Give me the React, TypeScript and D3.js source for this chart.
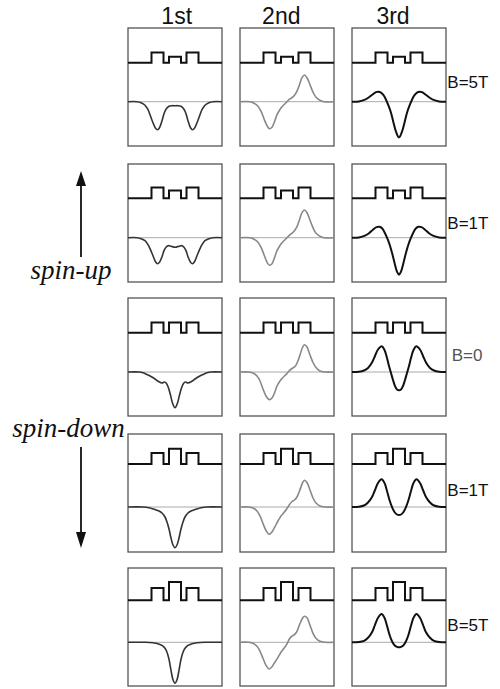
import React from "react";
import * as d3 from "d3";

type Pt = [number, number];

const states = ["1st", "2nd", "3rd"];
const fieldLabels = ["B=5T", "B=1T", "B=0", "B=1T", "B=5T"];
const spinLabels = ["spin-up", "spin-down"];

// triple-barrier potential (position units, barrier heights in arbitrary energy units)
const barrierEdges = [-23.5, -11.5, -6, 6, 11.5, 23.5];
const outerBarrierHeight = [10.3, 10.7, 10.3, 11, 12.3];
const middleBarrierHeight = [6, 7.7, 10.3, 15.3, 18.3];

// wavefunctions, [position, amplitude]
const wave1st: Pt[][] = [
  [[-47,0],[-38,0],[-34,-1],[-30,-3.5],[-27,-8],[-25,-13],[-22,-21],[-19.5,-26.5],[-17.5,-28],[-15.5,-26],[-13,-19],[-11,-12],[-9,-7.5],[-6,-4.5],[-3,-4],[0,-4],[3,-4],[6,-4.5],[9,-7.5],[11,-12],[13,-19],[15.5,-26],[17.5,-28],[19.5,-26.5],[22,-21],[25,-13],[27,-8],[30,-3.5],[34,-1],[38,0],[47,0]],
  [[-47,0],[-38,0],[-34,-1],[-30,-3],[-27,-7],[-25,-11],[-22,-18],[-19.5,-24],[-17.5,-26],[-15.5,-24.5],[-13,-19],[-11,-13],[-9,-9.5],[-7,-8],[-4,-8.5],[0,-9.5],[4,-8.5],[7,-8],[9,-9.5],[11,-13],[13,-19],[15.5,-24.5],[17.5,-26],[19.5,-24],[22,-18],[25,-11],[27,-7],[30,-3],[34,-1],[38,0],[47,0]],
  [[-47,0],[-36,0],[-32,-0.8],[-28,-2.5],[-24,-4.5],[-20,-7],[-16.5,-9.5],[-13,-11],[-10.5,-10],[-8.5,-11.5],[-6.5,-16],[-4.5,-23],[-2.5,-31],[0,-35.7],[2.5,-31],[4.5,-23],[6.5,-16],[8.5,-11.5],[10.5,-10],[13,-11],[16.5,-9.5],[20,-7],[24,-4.5],[28,-2.5],[32,-0.8],[36,0],[47,0]],
  [[-47,0],[-32,0],[-26,-0.8],[-20,-2.5],[-16,-4],[-13,-6],[-10,-10],[-8,-15],[-6,-22],[-4,-31],[-2,-38],[0,-40.7],[2,-38],[4,-31],[6,-22],[8,-15],[10,-10],[13,-6],[16,-4],[20,-2.5],[26,-0.8],[32,0],[47,0]],
  [[-47,0],[-30,0],[-22,-0.5],[-17,-1.5],[-13,-3],[-10,-6],[-8,-10],[-6,-17],[-4,-28],[-2,-37.5],[0,-41],[2,-37.5],[4,-28],[6,-17],[8,-10],[10,-6],[13,-3],[17,-1.5],[22,-0.5],[30,0],[47,0]],
];

const wave2nd: Pt[][] = [
  [[-47,0],[-37,0],[-33,-1.5],[-29,-4.5],[-26,-9.5],[-23,-17],[-20,-24],[-17.5,-27],[-15,-25.5],[-12.5,-20],[-10,-13],[-7.5,-8.5],[-5,-5],[-2.5,-2.5],[0,0],[2.5,2.5],[5,4],[7.5,6.5],[10,10.5],[12.5,17],[15,24],[17.5,26.7],[20,24],[23,17],[26,9.5],[29,4.5],[33,1.5],[37,0],[47,0]],
  [[-47,0],[-37,0],[-33,-1.5],[-29,-4.5],[-26,-9.5],[-23,-17],[-20,-24.5],[-17.5,-27.5],[-15,-26],[-12.5,-20],[-10,-13],[-7.5,-8.5],[-5,-5],[-2.5,-2.5],[0,0],[2.5,2.5],[5,4.5],[7.5,7],[10,11],[12.5,18],[15,25],[17.5,27.7],[20,25],[23,17.5],[26,10],[29,4.5],[33,1.5],[37,0],[47,0]],
  [[-47,0],[-38,0],[-34,-1],[-30,-4],[-27,-9],[-24,-17],[-21,-24],[-17.5,-27.7],[-15,-26],[-12.5,-21],[-10,-14],[-7,-9],[-4,-5.5],[-1,-2.5],[2,1],[5,3.5],[8,5.5],[10.5,10],[13,17],[15.5,24.5],[17.5,27.3],[20,25],[23,17],[26,9.5],[29,4.5],[33,1],[38,0],[47,0]],
  [[-47,0],[-38,0],[-34,-1],[-30,-4],[-27,-9],[-24,-16.5],[-21,-23.5],[-18,-27.3],[-15.5,-25.5],[-12.5,-20.5],[-9,-14],[-6,-9],[-3,-5.5],[0,-1.5],[2.5,2.5],[5,5.5],[7.5,7],[10,10],[12.5,16],[15.5,24],[17.5,26.7],[20,24.5],[23,17],[26,9],[29,4],[33,1],[38,0],[47,0]],
  [[-47,0],[-38,0],[-34,-1],[-30,-4],[-27,-9],[-24,-16],[-21,-23],[-18,-26.7],[-15.5,-25],[-12.5,-20.5],[-9,-15],[-6,-10],[-3,-6],[0,-1.5],[2.5,3.5],[4.5,6],[7,7.3],[9.5,10],[12.5,17.5],[15.5,24],[17.5,26],[20,24.5],[23,17],[26,9],[29,4],[33,1],[38,0],[47,0]],
];

const wave3rd: Pt[][] = [
  [[-47,0],[-40,0.3],[-34,2],[-30,4.5],[-26,7.5],[-23,9.5],[-20.5,10],[-18,9],[-15.5,6.5],[-13,2],[-10.5,-4],[-8,-11],[-5.5,-21],[-3,-30],[0,-35.7],[3,-30],[5.5,-21],[8,-11],[10.5,-4],[13,2],[15.5,6.5],[18,9],[20.5,10],[23,9.5],[26,7.5],[30,4.5],[34,2],[40,0.3],[47,0]],
  [[-47,0],[-40,0.3],[-34,2],[-30,4.5],[-26,8],[-22.5,10.5],[-19.5,11],[-17,9.5],[-14.5,5.5],[-12,0],[-9.5,-6.5],[-7,-15],[-4.5,-25],[-2,-34],[0,-37],[2,-34],[4.5,-25],[7,-15],[9.5,-6.5],[12,0],[14.5,5.5],[17,9.5],[19.5,11],[22.5,10.5],[26,8],[30,4.5],[34,2],[40,0.3],[47,0]],
  [[-47,0],[-40,0.3],[-35,1.5],[-31,4],[-27,9.5],[-24,16],[-21,22.5],[-17.2,25.7],[-14.5,22],[-12,14],[-10,6],[-8,-1],[-6,-8],[-4,-14],[-2,-17.5],[0,-18.3],[2,-17.5],[4,-14],[6,-8],[8,-1],[10,6],[12,14],[14.5,22],[17.2,25.7],[21,22.5],[24,16],[27,9.5],[31,4],[35,1.5],[40,0.3],[47,0]],
  [[-47,0],[-40,0.3],[-35,1.5],[-31,4.5],[-27,10],[-24,17],[-21,24],[-17.5,27.7],[-14.5,24],[-12,16],[-9.5,7],[-7,0],[-4.5,-5],[-2,-7.5],[0,-8],[2,-7.5],[4.5,-5],[7,0],[9.5,7],[12,16],[14.5,24],[17.5,27.7],[21,24],[24,17],[27,10],[31,4.5],[35,1.5],[40,0.3],[47,0]],
  [[-47,0],[-40,0.3],[-35,1.5],[-31,4.5],[-27,10],[-24,17.5],[-21,24.5],[-17.5,28.3],[-14.5,24.5],[-12,16.5],[-9.5,7.5],[-7,1],[-4.5,-3],[-2,-4.5],[0,-5],[2,-4.5],[4.5,-3],[7,1],[9.5,7.5],[12,16.5],[14.5,24.5],[17.5,28.3],[21,24.5],[24,17.5],[27,10],[31,4.5],[35,1.5],[40,0.3],[47,0]],
];

const waves = [wave1st, wave2nd, wave3rd];

// layout
const W = 500;
const H = 689;
const colLeft = [128, 240, 352];
const panelW = 94;
const rowTop = [28, 164, 298, 434, 568];
const panelH = 118;
const potBase = [34.7, 34.3, 34.7, 30, 32.3];
const waveBase = [73.7, 73.7, 74, 73, 74.3];
const titleX = [176.7, 281.3, 393];
const waveColor = ["#333", "#888", "#111"];
const waveWidth = [1.6, 1.6, 2];
const labelBaseline = [88.3, 229, 360.7, 495.7, 631];

function potentialPoints(row: number): Pt[] {
  const o = outerBarrierHeight[row];
  const m = middleBarrierHeight[row];
  const e = barrierEdges;
  return [
    [-47, 0], [e[0], 0], [e[0], o], [e[1], o], [e[1], 0],
    [e[2], 0], [e[2], m], [e[3], m], [e[3], 0],
    [e[4], 0], [e[4], o], [e[5], o], [e[5], 0], [47, 0],
  ];
}

function Panel({ row, col }: { row: number; col: number }) {
  const x = d3.scaleLinear().domain([-47, 47]).range([0, panelW]);
  const yv = d3.scaleLinear().domain([0, 20]).range([potBase[row], potBase[row] - 20]);
  const yw = d3.scaleLinear().domain([-45, 45]).range([waveBase[row] + 45, waveBase[row] - 45]);
  const potLine = d3.line<Pt>().x((d) => x(d[0])).y((d) => yv(d[1]));
  const waveLine = d3
    .line<Pt>()
    .x((d) => x(d[0]))
    .y((d) => yw(d[1]))
    .curve(d3.curveCatmullRom.alpha(0.5));
  return (
    <g transform={`translate(${colLeft[col]},${rowTop[row]})`}>
      <rect x={0} y={0} width={panelW} height={panelH} fill="#fff" stroke="#555" strokeWidth={1.3} />
      <line x1={x(-47)} x2={x(47)} y1={yw(0)} y2={yw(0)} stroke="#aaa" strokeWidth={1} />
      <path d={potLine(potentialPoints(row)) || ""} fill="none" stroke="#111" strokeWidth={2} strokeLinejoin="miter" />
      <path
        d={waveLine(waves[col][row]) || ""}
        fill="none"
        stroke={waveColor[col]}
        strokeWidth={waveWidth[col]}
      />
    </g>
  );
}

export default function App() {
  return (
    <svg
      width={W}
      height={H}
      viewBox={`0 0 ${W} ${H}`}
      style={{ position: "absolute", left: 0, top: 0, background: "#fff" }}
    >
      <rect x={0} y={0} width={W} height={H} fill="#fff" />
      {states.map((s, i) => (
        <text
          key={s}
          x={titleX[i]}
          y={24}
          textAnchor="middle"
          fontFamily="'Liberation Sans', Arial, sans-serif"
          fontSize={23}
          fill="#111"
        >
          {s}
        </text>
      ))}
      {fieldLabels.map((_, r) =>
        states.map((__, c) => <Panel key={`${r}-${c}`} row={r} col={c} />)
      )}
      {fieldLabels.map((f, r) => (
        <text
          key={`f${r}`}
          x={f === "B=0" ? 451.7 : 447.3}
          y={labelBaseline[r]}
          fontFamily="'Liberation Sans', Arial, sans-serif"
          fontSize={17}
          fill={f === "B=0" ? "#555" : "#111"}
        >
          {f}
        </text>
      ))}
      {/* spin arrows */}
      <line x1={81} x2={81} y1={257} y2={184} stroke="#111" strokeWidth={1.8} />
      <path d="M81,171 L76,186 L86,186 Z" fill="#111" />
      <line x1={81} x2={81} y1={447} y2={533} stroke="#111" strokeWidth={1.8} />
      <path d="M81,548 L76,532 L86,532 Z" fill="#111" />
      <text
        x={71}
        y={279}
        textAnchor="middle"
        fontFamily="'Liberation Serif', 'Times New Roman', serif"
        fontStyle="italic"
        fontSize={27}
        fill="#111"
      >
        {spinLabels[0]}
      </text>
      <text
        x={68.5}
        y={437}
        textAnchor="middle"
        fontFamily="'Liberation Serif', 'Times New Roman', serif"
        fontStyle="italic"
        fontSize={27}
        fill="#111"
      >
        {spinLabels[1]}
      </text>
    </svg>
  );
}
